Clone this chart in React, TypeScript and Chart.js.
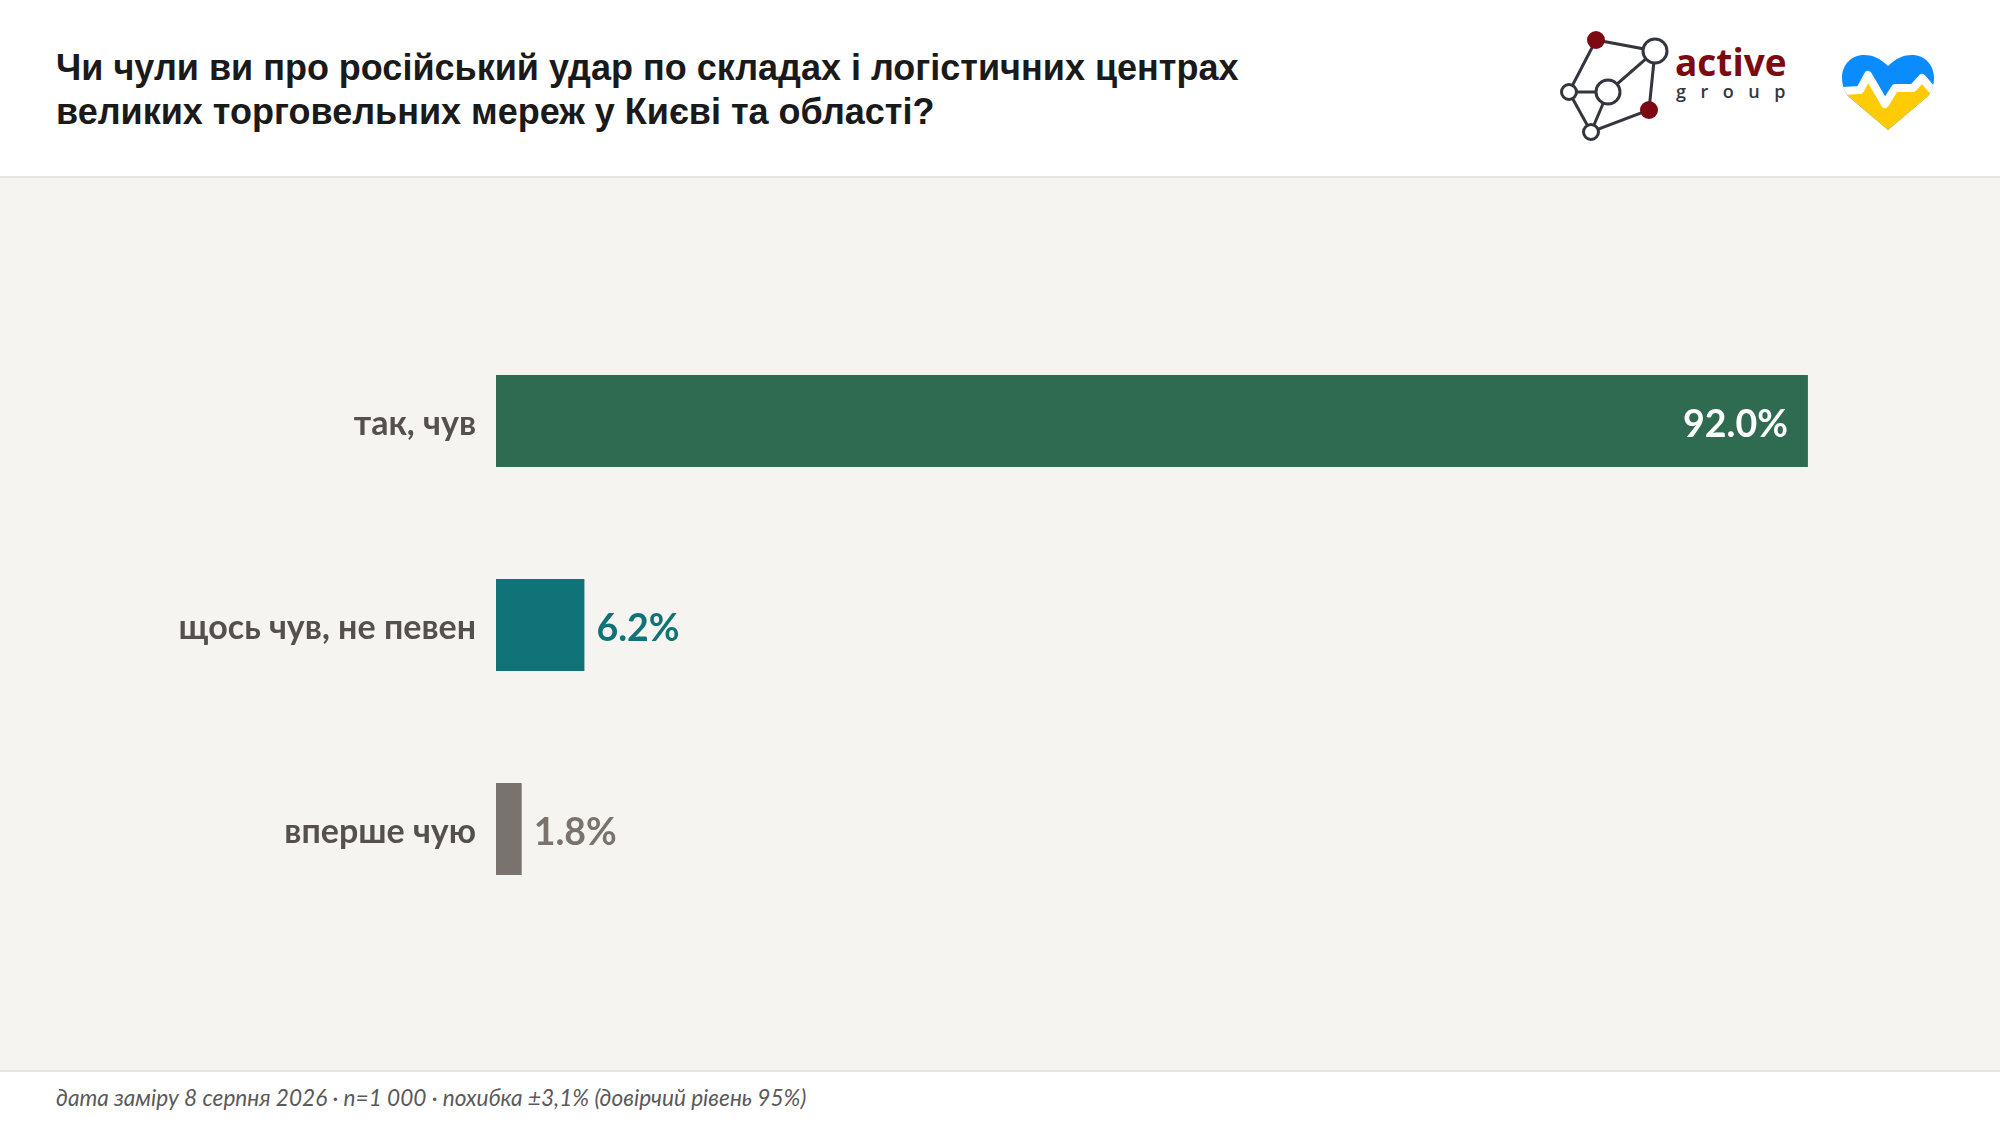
import { useEffect, useRef } from "react";
import { Chart, registerables } from "chart.js";

Chart.register(...registerables);

const categories = ["так, чув", "щось чув, не певен", "вперше чую"];
const values = [92.0, 6.2, 1.8];
const barColors = ["#2F6B50", "#0F7377", "#7A736D"];

const titleLines = [
  "Чи чули ви про російський удар по складах і логістичних центрах",
  "великих торговельних мереж у Києві та області?",
];
const footnote = "дата заміру 8 серпня 2026 · n=1 000 · похибка ±3,1% (довірчий рівень 95%)";

// value labels: the long bar gets its label inside, the short ones right after the bar
const valueLabels = {
  id: "valueLabels",
  afterDatasetsDraw(chart: Chart) {
    const { ctx } = chart;
    chart.getDatasetMeta(0).data.forEach((bar: any, i: number) => {
      const inside = values[i] > 50;
      ctx.save();
      ctx.font = "bold 37.5px Lato";
      ctx.textBaseline = "middle";
      ctx.textAlign = inside ? "right" : "left";
      ctx.fillStyle = inside ? "#FFFFFF" : barColors[i];
      ctx.fillText(values[i].toFixed(1) + "%", inside ? bar.x - 20 : bar.x + 12, bar.y + 4);
      ctx.restore();
    });
  },
};

function Logo() {
  return (
    <svg width="2000" height="176" style={{ position: "absolute", left: 0, top: 0 }}>
      <g stroke="#33363D" strokeWidth="3" fill="none">
        <path d="M1596 40 L1655 51 L1608 92 L1569 92 L1596 40" />
        <path d="M1655 51 L1649 110 L1591 132 L1569 92" />
        <path d="M1608 92 L1591 132" />
      </g>
      <g stroke="#33363D" strokeWidth="3" fill="#FFFFFF">
        <circle cx="1655" cy="51" r="12" />
        <circle cx="1608" cy="92" r="12" />
        <circle cx="1569" cy="92" r="7.5" />
        <circle cx="1591" cy="132" r="7.5" />
      </g>
      <circle cx="1596" cy="40" r="9" fill="#7D0A12" />
      <circle cx="1649" cy="110" r="9" fill="#7D0A12" />
      <text x="1675" y="76" fontFamily="Open Sans" fontWeight="700" fontSize="37" fill="#7D0A12">active</text>
      <text x="1676" y="98" fontFamily="Open Sans" fontWeight="600" fontSize="18" letterSpacing="14.5" fill="#33363D">group</text>

      <clipPath id="heart">
        <path d="M1888 66 C1880 58 1872 55 1864 55 C1851 55 1842 65 1842 78 C1842 85 1844 91 1848 96 L1888 130 L1928 96 C1932 91 1934 85 1934 78 C1934 65 1925 55 1912 55 C1904 55 1896 58 1888 66Z" />
      </clipPath>
      <g clipPath="url(#heart)">
        <rect x="1840" y="50" width="100" height="85" fill="#0A8CFF" />
        <path d="M1840 91 L1860 90 L1868 75 L1885 104 L1895 88 L1913 88 L1922 78 L1936 94 L1936 135 L1840 135Z" fill="#FFCB05" />
        <path d="M1840 91 L1860 90 L1868 75 L1885 104 L1895 88 L1913 88 L1922 78 L1936 94" fill="none" stroke="#FFFFFF" strokeWidth="8" strokeLinejoin="round" />
      </g>
    </svg>
  );
}

export default function App() {
  const chartRef = useRef<HTMLCanvasElement>(null);

  useEffect(() => {
    if (!chartRef.current) return;
    const chart = new Chart(chartRef.current, {
      type: "bar",
      data: {
        labels: categories,
        datasets: [{
          data: values,
          backgroundColor: barColors,
          categoryPercentage: 0.451,
          barPercentage: 1,
        }],
      },
      options: {
        indexAxis: "y",
        responsive: false,
        animation: false,
        layout: { padding: { top: 141, bottom: 140, right: 78 } },
        scales: {
          x: { display: false, min: 0, max: 100 },
          y: {
            afterFit: (scale: any) => { scale.width = 496; },
            grid: { display: false, drawTicks: false },
            border: { display: false },
            ticks: {
              padding: 20,
              labelOffset: 3,
              color: "#55504C",
              font: { family: "Lato", weight: "bold", size: 34 },
            },
          },
        },
        plugins: { legend: { display: false }, tooltip: { enabled: false } },
      },
      plugins: [valueLabels],
    });
    return () => chart.destroy();
  }, []);

  return (
    <div style={{ position: "relative", width: 2000, height: 1126, overflow: "hidden", background: "#FFFFFF" }}>
      <style>{"html,body{margin:0;padding:0;overflow:hidden}"}</style>
      <div
        style={{
          position: "absolute", left: 56, top: 46, fontFamily: "Liberation Sans", fontWeight: 700,
          fontSize: 36, lineHeight: "44px", color: "#1A1A1A", whiteSpace: "nowrap",
        }}
      >
        {titleLines.map((line) => <div key={line}>{line}</div>)}
      </div>
      <Logo />
      <div style={{ position: "absolute", left: 0, top: 176, width: 2000, height: 2, background: "#E6E4E0" }} />
      <div style={{ position: "absolute", left: 0, top: 178, width: 2000, height: 893, background: "#F5F4F0" }}>
        <canvas ref={chartRef} width={2000} height={893} style={{ display: "block" }} />
      </div>
      <div style={{ position: "absolute", left: 0, top: 1070, width: 2000, height: 2, background: "#E6E4E0" }} />
      <div
        style={{
          position: "absolute", left: 56, top: 1084, fontFamily: "Lato", fontStyle: "italic",
          fontSize: 22.6, color: "#5A5A5A", whiteSpace: "nowrap",
        }}
      >
        {footnote}
      </div>
    </div>
  );
}
